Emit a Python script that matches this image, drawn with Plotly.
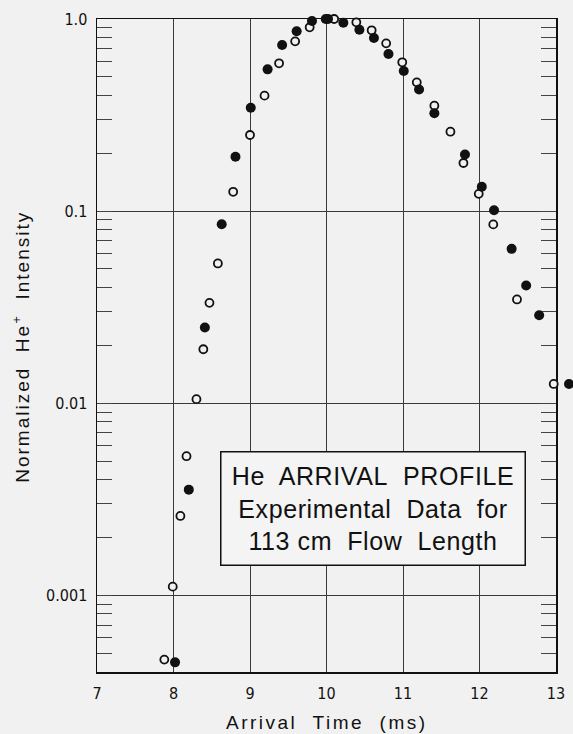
import plotly.graph_objects as go

# Arrival time (ms) and normalized He+ intensity, two runs
filled_x = [8.02, 8.20, 8.41, 8.63, 8.81, 9.01, 9.23, 9.42, 9.61, 9.81, 9.99, 10.02,
            10.22, 10.43, 10.62, 10.81, 11.01, 11.21, 11.41, 11.81, 12.03, 12.19,
            12.42, 12.61, 12.78, 13.17]
filled_y = [0.000448, 0.00355, 0.0248, 0.0855, 0.192, 0.345, 0.547, 0.732, 0.863,
            0.976, 1.0, 1.0, 0.956, 0.88, 0.796, 0.657, 0.536, 0.430, 0.323, 0.197,
            0.134, 0.101, 0.0636, 0.041, 0.0287, 0.0126]

open_x = [7.88, 7.99, 8.09, 8.17, 8.30, 8.39, 8.47, 8.58, 8.78, 9.00, 9.19, 9.38,
          9.59, 9.78, 10.10, 10.24, 10.39, 10.59, 10.78, 10.99, 11.18, 11.41, 11.62,
          11.79, 11.99, 12.18, 12.49, 12.97]
open_y = [0.000463, 0.00111, 0.00259, 0.0053, 0.0105, 0.0191, 0.0333, 0.0534, 0.126,
          0.249, 0.399, 0.588, 0.765, 0.905, 1.0, 1.01, 0.961, 0.873, 0.747, 0.595,
          0.468, 0.354, 0.259, 0.178, 0.123, 0.0853, 0.0347, 0.0126]

x_ticks = [7, 8, 9, 10, 11, 12, 13]
y_ticks = [1.0, 0.1, 0.01, 0.001]
y_tick_labels = ["1.0", "0.1", "0.01", "0.001"]
minor_vals = [m * 10 ** e for e in (-4, -3, -2, -1) for m in range(2, 10)]

BG = "#f1f1f1"
TICKFONT = dict(family="Liberation Sans Narrow, DejaVu Sans Condensed, Liberation Sans",
                size=16, color="#111")
SANS = "Liberation Sans, Arial, sans-serif"

# geometry: frame spans 7..13 ms; data layer is a bit wider so the point beyond 13 shows
W, H = 573, 734
ML, MR, MT, MB = 97, 0, 19, 62
plot_w = W - ML - MR
frame_px = 459
frame_frac = frame_px / plot_w
x_lo, x_hi = 7, 13
data_x_hi = x_lo + (x_hi - x_lo) * plot_w / frame_px
yrange = [-3.399, 0]

fig = go.Figure()
fig.add_trace(go.Scatter(
    x=open_x, y=open_y, mode="markers", cliponaxis=False, showlegend=False,
    hoverinfo="skip",
    marker=dict(symbol="circle", size=8, color=BG, line=dict(color="#111", width=1.8)),
))
fig.add_trace(go.Scatter(
    x=filled_x, y=filled_y, mode="markers", cliponaxis=False, showlegend=False,
    xaxis="x2", yaxis="y3", hoverinfo="skip",
    marker=dict(symbol="circle", size=10, color="#111", line=dict(width=0)),
))

minor_ticks = dict(tickmode="array", tickvals=minor_vals, ticks="inside",
                   ticklen=15, tickcolor="#444", tickwidth=1, showgrid=False)

fig.update_layout(
    template="none",
    width=W, height=H, autosize=False,
    margin=dict(l=ML, r=MR, t=MT, b=MB, pad=0, autoexpand=False),
    paper_bgcolor=BG, plot_bgcolor="rgba(0,0,0,0)",
    xaxis=dict(
        domain=[0, frame_frac], range=[x_lo, x_hi], automargin=False,
        tickvals=x_ticks, ticktext=[str(v) for v in x_ticks],
        showgrid=True, gridcolor="#3a3a3a", gridwidth=1,
        showline=True, linecolor="#111", linewidth=1.5, mirror=True,
        ticks="", tickfont=TICKFONT, zeroline=False,
        ticklabelstandoff=6, fixedrange=True, layer="below traces",
    ),
    yaxis=dict(
        type="log", range=yrange, tickvals=y_ticks, ticktext=y_tick_labels,
        automargin=False,
        showgrid=True, gridcolor="#3a3a3a", gridwidth=1,
        showline=True, linecolor="#111", linewidth=1.5, mirror="allticks",
        ticks="inside", ticklen=15, tickcolor="#444", tickwidth=1,
        minor=minor_ticks, tickfont=TICKFONT, zeroline=False,
        ticklabelstandoff=5, fixedrange=True, layer="below traces",
    ),
    xaxis2=dict(domain=[0, 1], range=[x_lo, data_x_hi], anchor="y3",
                visible=False, fixedrange=True, automargin=False),
    yaxis3=dict(domain=[0, 1], type="log", range=yrange, anchor="x2",
                visible=False, fixedrange=True, automargin=False),
    annotations=[
        dict(text='<span style="letter-spacing:2px">Normalized\u00a0 He<sup>+</sup>\u00a0 Intensity</span>',
             xref="paper", yref="paper",
             x=(21 - ML) / plot_w, y=0.498, xanchor="center", yanchor="middle",
             textangle=-90, showarrow=False, font=dict(family=SANS, size=19, color="#111")),
        dict(text='<span style="letter-spacing:2.5px">Arrival\u00a0 Time\u00a0 (ms)</span>',
             xref="paper", yref="paper",
             x=(327 - ML) / plot_w, y=-0.078, xanchor="center", yanchor="middle",
             showarrow=False, font=dict(family=SANS, size=19, color="#111")),
        dict(text='<span style="letter-spacing:0.6px">He\u00a0 ARRIVAL\u00a0 PROFILE<br>Experimental\u00a0 Data\u00a0 for<br>113\u00a0cm\u00a0 Flow\u00a0 Length</span>',
             xref="paper", yref="paper", x=(373 - ML) / plot_w, y=0.251,
             xanchor="center", yanchor="middle", showarrow=False, align="center",
             width=293, height=102, borderpad=5,
             bordercolor="#111", borderwidth=1.5, bgcolor="#f4f4f4",
             font=dict(family=SANS, size=25, color="#111")),
    ],
)

fig.write_html("out.html", config={"displayModeBar": False, "staticPlot": True},
               post_script="document.body.style.margin='0';document.body.style.overflow='hidden';")
